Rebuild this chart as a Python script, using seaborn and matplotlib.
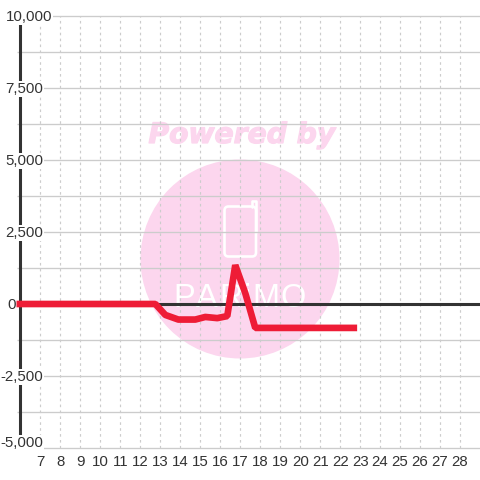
import matplotlib
matplotlib.use('Agg')
import matplotlib.pyplot as plt
import matplotlib.patheffects as pe
from matplotlib.patches import Circle, FancyBboxPatch
import pandas as pd
import seaborn as sns

hours = [5.8, 12.75, 13.25, 13.9, 14.75, 15.25, 15.85, 16.35, 16.75, 17.25, 17.75, 22.85]
values = [0, 0, -380, -540, -540, -450, -490, -420, 1350, 380, -830, -830]
x_ticks = list(range(7, 29))
grid_y = [10000, 8750, 7500, 6250, 5000, 3750, 2500, 1250, -1250, -2500, -3750, -5000]
# label value, text, x of right edge
y_labels = [
    (9970, '10,000', 7.58),
    (7470, '7,500', 7.13),
    (4970, '5,000', 7.13),
    (2470, '2,500', 7.13),
    (-30, '0', 5.78),
    (-2530, '-2,500', 7.13),
    (-4830, '-5,000', 7.13),
]
logo_letters = ['P', 'A', 'R', 'i', 'M', 'O']
logo_x = [173, 196, 219, 244, 252, 281]

sns.set_style('white')
plt.rcParams['font.family'] = ['Liberation Sans', 'DejaVu Sans']

fig = plt.figure(figsize=(4.8, 4.8), dpi=100)
fig.patch.set_facecolor('white')

# watermark goes underneath, in pixel coordinates
bg = fig.add_axes([0, 0, 1, 1], zorder=0)
bg.set_xlim(0, 480)
bg.set_ylim(480, 0)
bg.axis('off')
pink = '#fcd6ee'
bg.add_patch(Circle((240, 259), 99.5, color=pink, lw=0))
bg.text(242, 135, 'Powered by', color=pink, fontsize=20.3, fontweight='bold',
        fontstyle='italic', family='DejaVu Sans', ha='center', va='center',
        path_effects=[pe.withStroke(linewidth=0.9, foreground=pink)])
bg.add_patch(FancyBboxPatch((228, 210), 24.5, 43, boxstyle='round,pad=3.5,rounding_size=4',
                            fc='none', ec='white', lw=1.9))
bg.plot([252, 252, 256, 256], [207, 200.5, 200.5, 232], color='white', lw=1.9, solid_joinstyle='round')
for letter, lx in zip(logo_letters, logo_x):
    bg.text(lx, 307, letter, color='white', fontsize=23.5, ha='left', va='baseline')

ax = fig.add_axes([17 / 480, 32 / 480, 463 / 480, 432 / 480], zorder=1)
ax.patch.set_visible(False)
ax.set_xlim(5.825, 29)
ax.set_ylim(-5000, 10000)
sns.despine(ax=ax, left=True, bottom=True, right=True, top=True)

ax.hlines(grid_y, 5.825, 29, color='#cccccc', lw=0.95, zorder=1, clip_on=False)
ax.vlines(x_ticks, -5000, 10000, color='#cccccc', lw=0.85, linestyles=(0, (2.2, 2.8)), zorder=1)
ax.axhline(0, color='#333333', lw=2.2, zorder=2)
ax.vlines(6.0, -5000, 10000, color='#333333', lw=2.2, zorder=2)

for y, txt, right in y_labels:
    ax.text(right, y, txt, ha='right', va='center', fontsize=10.8, color='#333333', zorder=3,
            clip_on=False, bbox=dict(fc='white', ec='none', pad=0.9))

df = pd.DataFrame({'hour': hours, 'value': values})
sns.lineplot(data=df, x='hour', y='value', color='#ee1c36', lw=4.8, ax=ax, zorder=4,
             solid_joinstyle='bevel', solid_capstyle='butt', clip_on=False)

ax.set_xticks(x_ticks)
ax.set_xticklabels([str(t) for t in x_ticks])
ax.set_yticks([])
ax.set_xlabel('')
ax.set_ylabel('')
ax.tick_params(axis='x', length=0, pad=5, labelsize=10.8, labelcolor='#333333')

fig.savefig('out.png', dpi=100)
